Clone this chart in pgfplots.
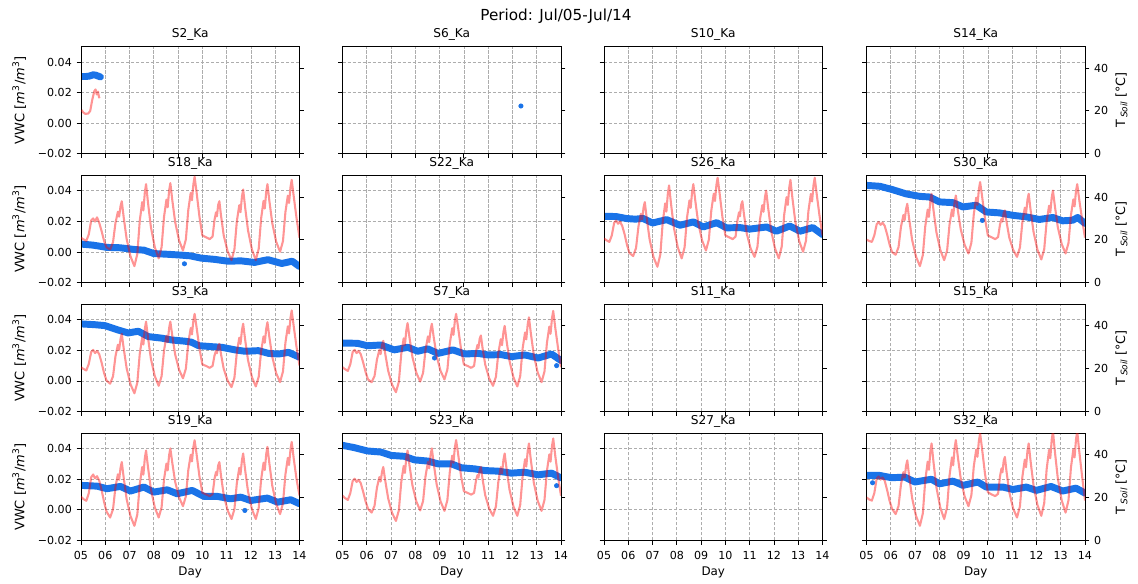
\documentclass[border=0pt]{standalone}
\usepackage{fontspec}
\setmainfont{DejaVu Sans}
\usepackage{pgfplots}
\pgfplotsset{compat=1.18}
\definecolor{vblue}{RGB}{26,115,232}
\pgfplotsset{
 every axis title/.style={at={(0.5,1)},anchor=base,yshift=6.5bp,font=\fontsize{8.8}{10}\selectfont},
 pan/.style={scale only axis,width=157.32bp,height=77.04bp,anchor=south west,xmin=5,xmax=14,
   tick align=outside,major tick length=3.1bp,
   every tick/.style={black,line width=0.6bp},
   axis line style={black,line width=0.6bp},
   scaled y ticks=false,scaled x ticks=false,
   tick label style={font=\fontsize{8}{9}\selectfont},
   label style={font=\fontsize{8.6}{10}\selectfont}},
 lft/.style={pan,ymin=-0.02,ymax=0.05,xtick={5,6,...,14},ytick={-0.02,0,0.02,0.04},
   xticklabels={},yticklabels={},xtick pos=left,ytick pos=left,
   xmajorgrids,ymajorgrids,grid style={black!32,line width=0.55bp,dash pattern=on 2.4bp off 1.2bp},
   xticklabel style={yshift=-1.5bp},
   xlabel style={at={(axis description cs:0.5,0)},anchor=base,yshift=-25bp},
   ylabel style={at={(axis description cs:-0.283,0.5)},anchor=center,font=\fontsize{9.4}{10}\selectfont}},
 rgt/.style={pan,ymin=0,ymax=50,hide x axis,ytick pos=right,yticklabel pos=right,ytick={0,20,40},yticklabels={},
   ylabel style={at={(axis description cs:1.167,0.5)},anchor=center,font=\fontsize{9.2}{10}\selectfont}},
 vwc/.style={color=vblue,line width=5bp,line cap=round,line join=round,no markers},
 tmp/.style={color=red,draw opacity=0.42,line width=1.5bp,line join=round,no markers},
 odd/.style={only marks,mark=*,mark size=1.6bp,color=vblue},
 bot/.style={xticklabels={05,06,07,08,09,10,11,12,13,14},xlabel={Day}},
 vlab/.style={yticklabels={−0.02,0.00,0.02,0.04},ylabel={VWC [\textit{m}\textsuperscript{3}/\textit{m}\textsuperscript{3}]}},
 tlab/.style={yticklabels={0,20,40},ylabel={T\,\raisebox{-0.35ex}{\fontsize{6.5}{6.5}\selectfont\itshape Soil}\ [°C]}},
}
\begin{document}
\begin{tikzpicture}
\path[use as bounding box] (0,0) rectangle (819.36bp,420.48bp);
\node[anchor=base,font=\fontsize{11}{12}\selectfont] at (400.3bp,405.6bp) {Period: Jul/05-Jul/14};
% ================= ROW 1 =================
% S2
\begin{axis}[lft,vlab,at={(58.32bp,309.82bp)},title={S2\_Ka}]
\addplot[vwc] coordinates {(5.03,0.0305)(5.2,0.0305)(5.35,0.0308)(5.5,0.0316)(5.6,0.0314)(5.7,0.0308)(5.8,0.0302)};
\end{axis}
\begin{axis}[rgt,at={(58.32bp,309.82bp)}]
\addplot[tmp] coordinates {(5.02,20.4)(5.10,19.2)(5.18,18.6)(5.30,18.8)(5.38,20)(5.46,25)(5.55,29.3)(5.60,30)(5.65,27.7)(5.70,29)(5.74,26.5)(5.77,26)};
\end{axis}
% S6
\begin{axis}[lft,at={(246.6bp,309.82bp)},title={S6\_Ka}]
\addplot[odd] coordinates {(12.35,0.0112)};
\end{axis}
\begin{axis}[rgt,at={(246.6bp,309.82bp)}]
\end{axis}
% S10
\begin{axis}[lft,at={(434.88bp,309.82bp)},title={S10\_Ka}]
\end{axis}
\begin{axis}[rgt,at={(434.88bp,309.82bp)}]
\end{axis}
% S14
\begin{axis}[lft,at={(623.88bp,309.82bp)},title={S14\_Ka}]
\end{axis}
\begin{axis}[rgt,tlab,at={(623.88bp,309.82bp)}]
\end{axis}
% ================= ROW 2 =================
% S18
\begin{axis}[lft,vlab,at={(58.32bp,217.01bp)},title={S18\_Ka}]
\addplot[vwc] coordinates {(5.0,0.0052)(5.5,0.0045)(6.08,0.003)(6.6,0.0028)(7.18,0.0017)(7.6,0.0012)(8.0,-0.001)(8.6,-0.0015)(9.1,-0.002)(9.5,-0.0025)(9.95,-0.004)(10.5,-0.0048)(11.05,-0.006)(11.6,-0.0058)(12.15,-0.0068)(12.7,-0.005)(13.27,-0.0075)(13.7,-0.006)(14.0,-0.0095)};
\addplot[odd] coordinates {(9.26,-0.0077)};
\end{axis}
\begin{axis}[rgt,at={(58.32bp,217.01bp)}]
\addplot[tmp] coordinates {(5.00,21)(5.10,20.2)(5.22,19.5)(5.32,22.5)(5.42,29)(5.50,30)(5.58,28.5)(5.66,30.5)(5.75,28)(5.85,24)(5.95,19.5)(6.05,16.5)
(6.20,15.5)(6.32,18.9)(6.42,27.9)(6.52,33.1)(6.57,30.8)(6.63,35.8)(6.68,38)(6.76,30.4)(6.88,20.4)(7.04,12.2)
(7.20,7.7)(7.32,13.4)(7.42,28.8)(7.52,37.6)(7.57,33.7)(7.63,42.2)(7.68,46)(7.76,37.3)(7.88,25.9)(8.04,16.5)
(8.20,11.3)(8.32,16.6)(8.42,30.7)(8.52,38.8)(8.57,35.2)(8.63,43)(8.68,46.5)(8.76,38.6)(8.88,28.2)(9.04,19.7)
(9.20,15)(9.32,20.2)(9.42,34)(9.52,41.9)(9.57,38.5)(9.63,46)(9.68,49.5)(9.76,42.3)(9.88,30.7)(10.00,22)
(10.15,21.2)(10.30,20.3)(10.42,21.5)(10.50,29.3)(10.56,32.8)(10.60,31)(10.65,36.3)(10.70,38)(10.77,31.1)(10.88,22)(11.04,14.6)
(11.20,10.5)(11.32,15.5)(11.42,28.7)(11.52,36.2)(11.57,32.9)(11.63,40.2)(11.68,43.5)(11.76,35.3)(11.88,24.4)(12.04,15.5)
(12.20,10.5)(12.32,15.8)(12.42,30)(12.52,38.2)(12.57,34.6)(12.63,42.5)(12.68,46)(12.76,38.1)(12.88,27.7)(13.04,19.1)
(13.20,14.4)(13.32,19.4)(13.42,32.9)(13.52,40.6)(13.57,37.2)(13.63,44.6)(13.68,48)(13.76,40.5)(13.88,30)(14.00,21)};
\end{axis}
% S22
\begin{axis}[lft,at={(246.6bp,217.01bp)},title={S22\_Ka}]
\end{axis}
\begin{axis}[rgt,at={(246.6bp,217.01bp)}]
\end{axis}
% S26
\begin{axis}[lft,at={(434.88bp,217.01bp)},title={S26\_Ka}]
\addplot[vwc] coordinates {(5.0,0.0234)(5.5,0.0232)(5.93,0.0219)(6.3,0.0215)(6.6,0.022)(7.0,0.019)(7.58,0.0212)(8.13,0.0175)(8.68,0.0197)(9.09,0.0164)(9.64,0.0192)(10.05,0.0158)(10.6,0.016)(11.0,0.015)(11.7,0.0164)(12.1,0.0136)(12.65,0.017)(13.07,0.0136)(13.6,0.016)(14.0,0.0114)};
\end{axis}
\begin{axis}[rgt,at={(434.88bp,217.01bp)}]
\addplot[tmp] coordinates {(5.00,20.6)(5.10,19.8)(5.22,19)(5.32,22)(5.42,28)(5.50,29)(5.58,27.5)(5.66,28.5)(5.75,26.5)(5.85,22.5)(5.95,17.5)(6.05,13.8)
(6.20,12.4)(6.32,16.2)(6.42,26.3)(6.52,32.1)(6.57,29.5)(6.63,35.1)(6.68,37.6)(6.76,30.1)(6.88,20.1)(7.04,11.9)
(7.20,7.4)(7.32,13.1)(7.42,28.3)(7.52,37)(7.57,33.2)(7.63,41.6)(7.68,45.4)(7.76,36.9)(7.88,25.6)(8.04,16.4)
(8.20,11.3)(8.32,16.5)(8.42,30.4)(8.52,38.4)(8.57,34.9)(8.63,42.5)(8.68,46)(8.76,38.3)(8.88,28)(9.04,19.7)
(9.20,15)(9.32,20.1)(9.42,33.7)(9.52,41.5)(9.57,38.1)(9.63,45.6)(9.68,49)(9.76,41.9)(9.88,30.5)(10.00,22)
(10.15,21.2)(10.30,20.3)(10.42,21.5)(10.50,29.3)(10.56,32.8)(10.60,31)(10.65,36.3)(10.70,38)(10.77,31.5)(10.88,22.9)(11.04,15.9)
(11.20,12)(11.32,16.7)(11.42,29.1)(11.52,36.2)(11.57,33.1)(11.63,39.9)(11.68,43)(11.76,35.1)(11.88,24.6)(12.04,16.1)
(12.20,11.3)(12.32,16.8)(12.42,31.5)(12.52,39.9)(12.57,36.3)(12.63,44.3)(12.68,48)(12.76,39.6)(12.88,28.5)(13.04,19.4)
(13.20,14.4)(13.32,19.6)(13.42,33.4)(13.52,41.4)(13.57,37.9)(13.63,45.5)(13.68,49)(13.76,41.5)(13.88,31)(14.00,22)};
\end{axis}
% S30
\begin{axis}[lft,at={(623.88bp,217.01bp)},title={S30\_Ka}]
\addplot[vwc] coordinates {(5.0,0.0436)(5.55,0.043)(6.03,0.041)(6.64,0.038)(7.2,0.0364)(7.6,0.036)(8.0,0.0328)(8.56,0.0323)(8.97,0.0295)(9.52,0.0306)(9.93,0.0262)(10.48,0.0256)(11.03,0.024)(11.58,0.023)(12.12,0.0213)(12.67,0.0226)(13.08,0.0204)(13.49,0.0208)(13.7,0.0226)(14.0,0.0187)};
\addplot[odd] coordinates {(9.77,0.0207)};
\end{axis}
\begin{axis}[rgt,tlab,at={(623.88bp,217.01bp)}]
\addplot[tmp] coordinates {(5.00,20.1)(5.10,19.5)(5.22,19)(5.32,22)(5.42,27.3)(5.50,28.3)(5.58,27)(5.66,28)(5.75,26.5)(5.85,22.5)(5.95,17.8)(6.05,14.3)
(6.20,13)(6.32,16.6)(6.42,26.1)(6.52,31.6)(6.57,29.2)(6.63,34.4)(6.68,36.8)(6.76,29.5)(6.88,19.9)(7.04,12.1)
(7.20,7.7)(7.32,12.8)(7.42,26.3)(7.52,34.1)(7.57,30.7)(7.63,38.1)(7.68,41.5)(7.76,33.8)(7.88,23.5)(8.04,15.2)
(8.20,10.5)(8.32,15)(8.42,27.1)(8.52,34.1)(8.57,31)(8.63,37.7)(8.68,40.7)(8.76,33.9)(8.88,25)(9.04,17.7)
(9.20,13.6)(9.32,18.6)(9.42,32)(9.52,39.7)(9.57,36.3)(9.63,43.7)(9.68,47)(9.76,40.4)(9.88,29.9)(10.00,22)
(10.15,21.2)(10.30,20.3)(10.42,21.3)(10.50,27.2)(10.56,29.8)(10.60,28.5)(10.65,32.4)(10.70,33.7)(10.77,28.3)(10.88,21.1)(11.04,15.3)
(11.20,12)(11.32,16.4)(11.42,28.2)(11.52,35)(11.57,32.1)(11.63,38.6)(11.68,41.5)(11.76,33.8)(11.88,23.7)(12.04,15.4)
(12.20,10.8)(12.32,15.6)(12.42,28.5)(12.52,35.9)(12.57,32.7)(12.63,39.8)(12.68,43)(12.76,35.7)(12.88,25.9)(13.04,18)
(13.20,13.6)(13.32,18.5)(13.42,31.4)(13.52,38.9)(13.57,35.6)(13.63,42.8)(13.68,46)(13.76,39)(13.88,29.5)(14.00,21)};
\end{axis}
% ================= ROW 3 =================
% S3
\begin{axis}[lft,vlab,at={(58.32bp,124.2bp)},title={S3\_Ka}]
\addplot[vwc] coordinates {(5.0,0.0373)(5.56,0.0368)(5.98,0.0362)(6.53,0.0333)(6.94,0.0314)(7.36,0.0325)(7.77,0.029)(8.32,0.028)(8.73,0.0268)(9.28,0.026)(9.56,0.0253)(9.83,0.0231)(10.39,0.0224)(10.8,0.022)(11.35,0.0203)(11.76,0.0194)(12.31,0.0198)(12.73,0.018)(13.14,0.0176)(13.55,0.0187)(14.0,0.0155)};
\end{axis}
\begin{axis}[rgt,at={(58.32bp,124.2bp)}]
\addplot[tmp] coordinates {(5.00,20.7)(5.10,19.9)(5.22,19.2)(5.32,22.2)(5.42,27.8)(5.50,28.8)(5.58,27.3)(5.66,28.3)(5.75,26.8)(5.85,22.8)(5.95,18)(6.05,14.5)
(6.20,13)(6.32,16.5)(6.42,25.8)(6.52,31.2)(6.57,28.8)(6.63,34)(6.68,36.3)(6.76,29.4)(6.88,20.2)(7.04,12.7)
(7.20,8.5)(7.32,13.5)(7.42,26.9)(7.52,34.6)(7.57,31.3)(7.63,38.7)(7.68,42)(7.76,34.5)(7.88,24.6)(8.04,16.5)
(8.20,12)(8.32,16.5)(8.42,28.5)(8.52,35.4)(8.57,32.4)(8.63,39)(8.68,42)(8.76,35.4)(8.88,26.6)(9.04,19.5)
(9.20,15.5)(9.32,20)(9.42,32.1)(9.52,39)(9.57,36)(9.63,42.6)(9.68,45.6)(9.76,39.4)(9.88,29.4)(10.00,22)
(10.15,21.3)(10.30,20.4)(10.42,21.3)(10.50,26.2)(10.56,28.3)(10.60,27.2)(10.65,30.5)(10.70,31.6)(10.77,26.6)(10.88,19.9)(11.04,14.4)
(11.20,11.4)(11.32,15.8)(11.42,27.7)(11.52,34.5)(11.57,31.5)(11.63,38)(11.68,41)(11.76,33.7)(11.88,24)(12.04,16.1)
(12.20,11.7)(12.32,16.2)(12.42,28.2)(12.52,35.1)(12.57,32.1)(12.63,38.7)(12.68,41.7)(12.76,34.7)(12.88,25.5)(13.04,17.9)
(13.20,13.7)(13.32,18.7)(13.42,32.1)(13.52,39.8)(13.57,36.5)(13.63,43.9)(13.68,47.2)(13.76,40)(13.88,30)(14.00,21.5)};
\end{axis}
% S7
\begin{axis}[lft,at={(246.6bp,124.2bp)},title={S7\_Ka}]
\addplot[vwc] coordinates {(5.0,0.0248)(5.62,0.0246)(6.03,0.023)(6.58,0.0235)(7.13,0.0203)(7.69,0.022)(8.1,0.0194)(8.51,0.021)(8.93,0.018)(9.55,0.0203)(10.03,0.0176)(10.58,0.018)(10.99,0.017)(11.54,0.0172)(11.96,0.0159)(12.51,0.017)(13.06,0.015)(13.61,0.0176)(14.0,0.0133)};
\addplot[odd] coordinates {(8.79,0.015)(13.82,0.010)};
\end{axis}
\begin{axis}[rgt,at={(246.6bp,124.2bp)}]
\addplot[tmp] coordinates {(5.00,20.7)(5.10,19.8)(5.22,19)(5.32,22)(5.42,27.8)(5.50,28.8)(5.58,27.3)(5.66,28.3)(5.75,26.8)(5.85,23)(5.95,18.5)(6.05,15)
(6.20,13.7)(6.32,16.6)(6.42,24.3)(6.52,28.8)(6.57,26.8)(6.63,31.1)(6.68,33)(6.76,27)(6.88,19.1)(7.04,12.6)
(7.20,9)(7.32,13.8)(7.42,26.8)(7.52,34.2)(7.57,31)(7.63,38.1)(7.68,41.3)(7.76,34.5)(7.88,25.5)(8.04,18.1)
(8.20,14)(8.32,18.1)(8.42,28.9)(8.52,35.1)(8.57,32.4)(8.63,38.3)(8.68,41)(8.76,34.5)(8.88,25.9)(9.04,18.9)
(9.20,15)(9.32,19.6)(9.42,31.8)(9.52,38.9)(9.57,35.8)(9.63,42.5)(9.68,45.6)(9.76,39.4)(9.88,29.4)(10.00,22)
(10.15,21.3)(10.30,20.4)(10.42,21.3)(10.50,28.1)(10.56,31.1)(10.60,29.6)(10.65,34)(10.70,35.5)(10.77,29.6)(10.88,21.9)(11.04,15.5)
(11.20,12)(11.32,16.2)(11.42,27.4)(11.52,33.8)(11.57,31)(11.63,37.2)(11.68,40)(11.76,32.9)(11.88,23.6)(12.04,16)
(12.20,11.7)(12.32,16.5)(12.42,29.5)(12.52,36.9)(12.57,33.7)(12.63,40.8)(12.68,44)(12.76,36.4)(12.88,26.4)(13.04,18.2)
(13.20,13.7)(13.32,18.7)(13.42,32)(13.52,39.7)(13.57,36.3)(13.63,43.7)(13.68,47)(13.76,39.5)(13.88,29.5)(14.00,20.7)};
\end{axis}
% S11
\begin{axis}[lft,at={(434.88bp,124.2bp)},title={S11\_Ka}]
\end{axis}
\begin{axis}[rgt,at={(434.88bp,124.2bp)}]
\end{axis}
% S15
\begin{axis}[lft,at={(623.88bp,124.2bp)},title={S15\_Ka}]
\end{axis}
\begin{axis}[rgt,tlab,at={(623.88bp,124.2bp)}]
\end{axis}
% ================= ROW 4 =================
% S19
\begin{axis}[lft,vlab,bot,at={(58.32bp,31.39bp)},title={S19\_Ka}]
\addplot[vwc] coordinates {(5.0,0.016)(5.66,0.0155)(6.07,0.0138)(6.62,0.0153)(7.04,0.0123)(7.59,0.0149)(8.0,0.0116)(8.55,0.0131)(8.96,0.0105)(9.58,0.0127)(10.06,0.0088)(10.61,0.0088)(11.16,0.0072)(11.58,0.0083)(11.99,0.0061)(12.68,0.0077)(13.09,0.005)(13.64,0.0066)(14.0,0.004)};
\addplot[odd] coordinates {(11.75,-0.0004)};
\end{axis}
\begin{axis}[rgt,at={(58.32bp,31.39bp)}]
\addplot[tmp] coordinates {(5.00,20.4)(5.10,19.3)(5.22,18.5)(5.32,22)(5.42,29.5)(5.50,30.8)(5.58,29)(5.66,30)(5.75,28)(5.85,23.5)(5.95,18)(6.05,13.5)
(6.20,10.7)(6.32,14.6)(6.42,25)(6.52,30.9)(6.57,28.3)(6.63,34)(6.68,36.6)(6.76,29.2)(6.88,19.3)(7.04,11.3)
(7.20,6.8)(7.32,12.1)(7.42,26.2)(7.52,34.3)(7.57,30.7)(7.63,38.5)(7.68,42)(7.76,34.2)(7.88,23.8)(8.04,15.4)
(8.20,10.7)(8.32,15.5)(8.42,28.5)(8.52,35.9)(8.57,32.7)(8.63,39.8)(8.68,43)(8.76,36.3)(8.88,27.3)(9.04,20.1)
(9.20,16)(9.32,20.6)(9.42,32.9)(9.52,40)(9.57,36.9)(9.63,43.7)(9.68,46.8)(9.76,40.4)(9.88,29.8)(10.00,22.3)
(10.15,21.5)(10.30,20.7)(10.42,21.6)(10.50,28.8)(10.56,31.9)(10.60,30.4)(10.65,35)(10.70,36.6)(10.77,30)(10.88,21.2)(11.04,14)
(11.20,10)(11.32,14.6)(11.42,26.8)(11.52,33.9)(11.57,30.8)(11.63,37.5)(11.68,40.6)(11.76,33)(11.88,22.9)(12.04,14.6)
(12.20,10)(12.32,15.1)(12.42,28.5)(12.52,36.3)(12.57,32.9)(12.63,40.3)(12.68,43.7)(12.76,35.9)(12.88,25.5)(13.04,17)
(13.20,12.3)(13.32,17.4)(13.42,30.8)(13.52,38.6)(13.57,35.2)(13.63,42.6)(13.68,46)(13.76,38.5)(13.88,28.5)(14.00,21)};
\end{axis}
% S23
\begin{axis}[lft,bot,at={(246.6bp,31.39bp)},title={S23\_Ka}]
\addplot[vwc] coordinates {(5.0,0.0422)(5.48,0.0407)(6.03,0.0385)(6.58,0.0378)(7.0,0.0356)(7.55,0.035)(7.96,0.0327)(8.51,0.0319)(8.93,0.0301)(9.48,0.0301)(9.9,0.0275)(10.44,0.0268)(10.86,0.0257)(11.4,0.0253)(11.96,0.024)(12.51,0.0246)(13.06,0.0229)(13.61,0.024)(14.0,0.0209)};
\addplot[odd] coordinates {(13.82,0.0158)};
\end{axis}
\begin{axis}[rgt,at={(246.6bp,31.39bp)}]
\addplot[tmp] coordinates {(5.00,20.9)(5.10,19.8)(5.22,18.9)(5.32,22)(5.42,27.8)(5.50,28.8)(5.58,27.3)(5.66,28.3)(5.75,26.8)(5.85,22.8)(5.95,18.3)(6.05,14.8)
(6.20,13)(6.32,16.2)(6.42,24.7)(6.52,29.6)(6.57,27.5)(6.63,32.2)(6.68,34.3)(6.76,28)(6.88,19.7)(7.04,12.9)
(7.20,9.1)(7.32,14)(7.42,27.2)(7.52,34.8)(7.57,31.5)(7.63,38.7)(7.68,42)(7.76,35)(7.88,25.8)(8.04,18.2)
(8.20,14)(8.32,18.4)(8.42,30)(8.52,36.6)(8.57,33.7)(8.63,40.1)(8.68,43)(8.76,35.7)(8.88,26.1)(9.04,18.2)
(9.20,13.8)(9.32,18.8)(9.42,32)(9.52,39.6)(9.57,36.3)(9.63,43.6)(9.68,46.9)(9.76,40.6)(9.88,30.3)(10.00,23)
(10.15,22.2)(10.30,21.4)(10.42,22.2)(10.50,28)(10.56,30.5)(10.60,29.3)(10.65,33)(10.70,34.3)(10.77,28.6)(10.88,21.1)(11.04,14.9)
(11.20,11.5)(11.32,15.9)(11.42,27.5)(11.52,34.2)(11.57,31.3)(11.63,37.7)(11.68,40.6)(11.76,33.3)(11.88,23.7)(12.04,15.9)
(12.20,11.5)(12.32,16.6)(12.42,30.1)(12.52,37.9)(12.57,34.5)(12.63,41.9)(12.68,45.3)(12.76,37.4)(12.88,27)(13.04,18.5)
(13.20,13.8)(13.32,18.9)(13.42,32.4)(13.52,40.2)(13.57,36.8)(13.63,44.2)(13.68,47.6)(13.76,39.9)(13.88,29.6)(14.00,20.9)};
\end{axis}
% S27
\begin{axis}[lft,bot,at={(434.88bp,31.39bp)},title={S27\_Ka}]
\end{axis}
\begin{axis}[rgt,at={(434.88bp,31.39bp)}]
\end{axis}
% S32
\begin{axis}[lft,bot,at={(623.88bp,31.39bp)},title={S32\_Ka}]
\addplot[vwc] coordinates {(5.0,0.0225)(5.55,0.0225)(6.03,0.021)(6.58,0.0214)(6.99,0.0182)(7.67,0.02)(8.01,0.017)(8.56,0.0188)(8.97,0.016)(9.59,0.0182)(9.93,0.0149)(10.62,0.0149)(11.03,0.0133)(11.58,0.0149)(11.99,0.0127)(12.6,0.0153)(13.08,0.0123)(13.63,0.0142)(14.0,0.0109)};
\addplot[odd] coordinates {(5.25,0.0177)};
\end{axis}
\begin{axis}[rgt,tlab,at={(623.88bp,31.39bp)}]
\addplot[tmp] coordinates {(5.00,20.1)(5.10,19.2)(5.22,18.6)(5.32,22)(5.42,28.9)(5.50,29.9)(5.58,28.4)(5.66,29.4)(5.75,27.9)(5.85,23.5)(5.95,18.5)(6.05,14.8)
(6.20,12.3)(6.32,16.1)(6.42,26.1)(6.52,31.9)(6.57,29.4)(6.63,34.9)(6.68,37.4)(6.76,29.8)(6.88,19.7)(7.04,11.4)
(7.20,6.8)(7.32,12.6)(7.42,28)(7.52,36.8)(7.57,33)(7.63,41.5)(7.68,45.3)(7.76,36.5)(7.88,24.8)(8.04,15.3)
(8.20,10)(8.32,15.5)(8.42,30.3)(8.52,38.8)(8.57,35.1)(8.63,43.2)(8.68,46.9)(8.76,39.2)(8.88,29)(9.04,20.6)
(9.20,16)(9.32,21.1)(9.42,34.7)(9.52,42.5)(9.57,39.1)(9.63,46.6)(9.68,50)(9.76,42.8)(9.88,31.2)(10.00,22.5)
(10.15,21.5)(10.30,20.7)(10.42,21.8)(10.50,30)(10.56,33.6)(10.60,31.8)(10.65,37.2)(10.70,39)(10.77,31.9)(10.88,22.6)(11.04,14.9)
(11.20,10.7)(11.32,15.9)(11.42,29.7)(11.52,37.7)(11.57,34.2)(11.63,41.8)(11.68,45.3)(11.76,36.9)(11.88,25.7)(12.04,16.6)
(12.20,11.5)(12.32,17.4)(12.42,33.2)(12.52,42.3)(12.57,38.4)(12.63,47.1)(12.68,51)(12.76,41.5)(12.88,29)(13.04,18.7)
(13.20,13)(13.32,18.7)(13.42,33.9)(13.52,42.6)(13.57,38.8)(13.63,47.2)(13.68,51)(13.76,42)(13.88,30)(14.00,18.6)};
\end{axis}
\end{tikzpicture}
\end{document}
